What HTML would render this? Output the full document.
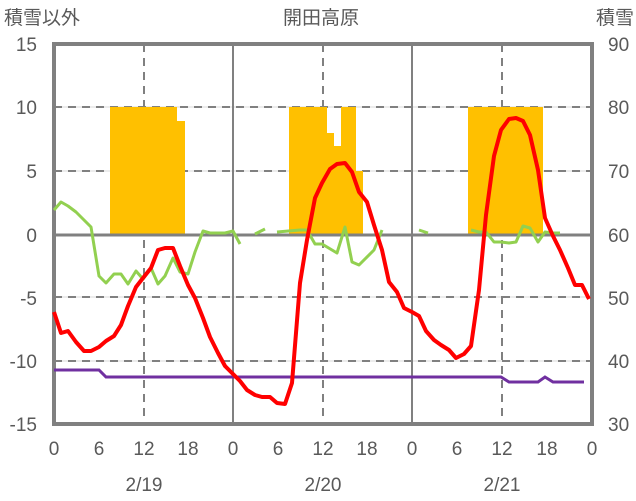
<!DOCTYPE html>
<html><head><meta charset="utf-8"><style>
html,body{margin:0;padding:0;background:#fff;width:636px;height:501px;overflow:hidden}
text{font-family:"Liberation Sans","Noto Sans CJK JP",sans-serif;fill:#595959}
</style></head><body>
<svg width="636" height="501" viewBox="0 0 636 501" xmlns="http://www.w3.org/2000/svg">
<g stroke="#d9d9d9" stroke-width="1">
<line x1="54" y1="107" x2="592" y2="107"/><line x1="54" y1="171" x2="592" y2="171"/>
<line x1="54" y1="297" x2="592" y2="297"/><line x1="54" y1="361" x2="592" y2="361"/>
</g>
<g stroke="#808080" stroke-width="2" stroke-dasharray="8,6">
<line x1="54" y1="107" x2="592" y2="107"/><line x1="54" y1="171" x2="592" y2="171"/>
<line x1="54" y1="297" x2="592" y2="297"/><line x1="54" y1="361" x2="592" y2="361"/>
<line x1="144" y1="44" x2="144" y2="424"/><line x1="323" y1="44" x2="323" y2="424"/><line x1="502" y1="44" x2="502" y2="424"/>
</g>
<g fill="#ffc000">
<rect x="110" y="107" width="67" height="127"/><rect x="177" y="121" width="8" height="113"/>
<rect x="289" y="107" width="38" height="127"/><rect x="327" y="133" width="7" height="101"/>
<rect x="334" y="146" width="7" height="88"/><rect x="341" y="107" width="15" height="127"/>
<rect x="356" y="171" width="7" height="63"/>
<rect x="468" y="107" width="75" height="127"/>
</g>
<g stroke="#808080" stroke-width="2">
<line x1="233" y1="44" x2="233" y2="424"/><line x1="412" y1="44" x2="412" y2="424"/>
</g>
<line x1="54" y1="235" x2="592" y2="235" stroke="#808080" stroke-width="3"/>
<rect x="54" y="44" width="538" height="380" fill="none" stroke="#808080" stroke-width="4"/>
<polyline fill="none" stroke="#7030a0" stroke-width="3" points="54,370 99,370 106,377 501,377 509,382 538,382 545,377 553,382 584,382"/>
<g fill="none" stroke="#92d050" stroke-width="3" stroke-linejoin="round">
<polyline points="54,210 61,202 68,206 76,212 84,220 91,227 99,276 106,283 114,274 121,274 128,284 136,271 143,279 151,268 158,284 165,276 173,258 180,272 188,274 195,252 203,231 210,233 218,233 225,233 233,231 240,244"/>
<polyline points="255,234 265,229" />
<polyline points="277,232 300,230 307,230 315,244 322,244 337,253 345,227 352,262 359,265 374,250 382,230"/>
<polyline points="419,230 428,233"/>
<polyline points="471,230 479,232 486,232 494,242 501,242 509,243 516,242 523,226 530,228 538,242 545,232 553,233 560,233"/>
</g>
<polyline fill="none" stroke="#ff0000" stroke-width="4" stroke-linejoin="round" points="54,312 61,333 68,331 76,342 84,351 91,351 99,347 106,341 114,336 121,325 128,306 136,287 143,278 151,268 158,250 165,248 173,248 180,266 188,285 195,298 203,318 210,337 218,353 225,366 233,374 240,381 247,390 255,395 262,397 270,397 277,403 285,404 292,383 300,283 307,240 315,198 322,183 330,169 337,164 345,163 352,172 359,192 367,202 374,225 382,250 389,282 397,292 404,308 412,312 419,316 426,331 434,340 441,345 449,350 456,358 464,354 471,346 479,290 486,215 494,156 501,130 509,119 516,118 523,121 530,135 538,170 545,218 553,236 560,250 568,268 575,285 582,285 589,299"/>
<g font-size="19">
<text x="4" y="24">積雪以外</text>
<text x="321" y="24" text-anchor="middle">開田高原</text>
<text x="634" y="24" text-anchor="end">積雪</text>
</g>
<g font-size="19" text-anchor="end">
<text x="37" y="51">15</text><text x="37" y="114">10</text><text x="37" y="178">5</text>
<text x="37" y="242">0</text><text x="37" y="305">-5</text><text x="37" y="368">-10</text><text x="37" y="431">-15</text>
</g>
<g font-size="19">
<text x="608" y="51">90</text><text x="608" y="114">80</text><text x="608" y="178">70</text>
<text x="608" y="242">60</text><text x="608" y="305">50</text><text x="608" y="368">40</text><text x="608" y="431">30</text>
</g>
<g font-size="19" text-anchor="middle">
<text x="54" y="455">0</text><text x="99" y="455">6</text><text x="144" y="455">12</text><text x="188" y="455">18</text>
<text x="233" y="455">0</text><text x="278" y="455">6</text><text x="323" y="455">12</text><text x="367" y="455">18</text>
<text x="412" y="455">0</text><text x="457" y="455">6</text><text x="502" y="455">12</text><text x="547" y="455">18</text>
<text x="592" y="455">0</text>
<text x="144" y="491">2/19</text><text x="323" y="491">2/20</text><text x="502" y="491">2/21</text>
</g>
</svg>
</body></html>
